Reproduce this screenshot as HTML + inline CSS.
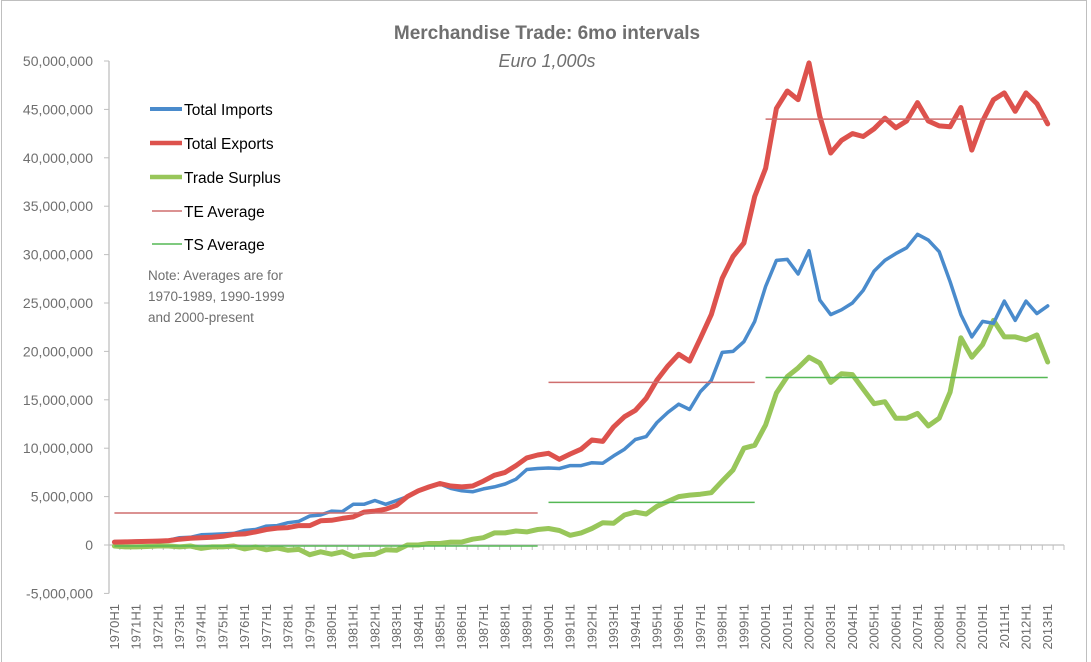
<!DOCTYPE html>
<html><head><meta charset="utf-8"><style>
body{margin:0;background:#fff;}
svg{display:block;font-family:"Liberation Sans",sans-serif;}
</style></head><body>
<svg id="chart" width="1091" height="662" viewBox="0 0 1091 662">
<rect x="1.5" y="0.5" width="1085" height="670" fill="#fff" stroke="#bfbfbf"/>
<text x="547" y="39" text-anchor="middle" font-size="19" font-weight="bold" fill="#6f6f6f">Merchandise Trade: 6mo intervals</text>
<text x="547" y="67" text-anchor="middle" font-size="18" font-style="italic" fill="#6f6f6f">Euro 1,000s</text>
<g id="yaxis"></g>
<g id="xaxis"></g>
<g id="avgs"></g>
<g id="series"></g>
<g>
<line x1="150" y1="109" x2="182" y2="109" stroke="#4a8bcc" stroke-width="4"/>
<text x="184" y="115" font-size="15.5" fill="#000">Total Imports</text>
<line x1="150" y1="143" x2="182" y2="143" stroke="#dd524d" stroke-width="4.5"/>
<text x="184" y="149" font-size="15.5" fill="#000">Total Exports</text>
<line x1="150" y1="177" x2="182" y2="177" stroke="#98c65a" stroke-width="4.5"/>
<text x="184" y="183" font-size="15.5" fill="#000">Trade Surplus</text>
<line x1="152" y1="211" x2="182" y2="211" stroke="#cf6e6e" stroke-width="1.5"/>
<text x="184" y="217" font-size="15.5" fill="#000">TE Average</text>
<line x1="152" y1="244" x2="182" y2="244" stroke="#55b855" stroke-width="1.5"/>
<text x="184" y="250" font-size="15.5" fill="#000">TS Average</text>
<text font-size="13.5" fill="#6f6f6f"><tspan x="148" y="280">Note: Averages are for</tspan><tspan x="148" y="301">1970-1989, 1990-1999</tspan><tspan x="148" y="322">and 2000-present</tspan></text>
</g>
</svg>
<script>
const yTicks=[-5000000,0,5000000,10000000,15000000,20000000,25000000,30000000,35000000,40000000,45000000,50000000];
const startYear=1970, nCats=88;
const imports=[0.35,0.37,0.4,0.42,0.45,0.5,0.75,0.8,1.05,1.1,1.15,1.2,1.5,1.6,1.95,2.0,2.3,2.45,3.0,3.1,3.5,3.45,4.2,4.2,4.6,4.2,4.6,5.0,5.6,6.0,6.3,5.85,5.6,5.5,5.8,6.0,6.3,6.8,7.8,7.9,7.95,7.9,8.2,8.2,8.5,8.45,9.2,9.9,10.9,11.2,12.65,13.7,14.55,14.0,15.85,17.0,19.9,20.0,21.0,23.1,26.7,29.4,29.5,28.0,30.4,25.3,23.8,24.3,25.0,26.3,28.3,29.4,30.1,30.7,32.1,31.5,30.3,27.2,23.8,21.5,23.1,22.9,25.2,23.2,25.2,23.9,24.7];
const exports=[0.3,0.32,0.35,0.37,0.4,0.45,0.6,0.7,0.75,0.8,0.9,1.1,1.15,1.35,1.6,1.75,1.8,2.0,2.0,2.5,2.55,2.75,2.9,3.4,3.5,3.7,4.1,5.0,5.6,6.0,6.35,6.1,6.0,6.1,6.6,7.2,7.5,8.2,9.0,9.3,9.47,8.85,9.4,9.9,10.85,10.7,12.2,13.25,13.9,15.15,17.05,18.5,19.7,19.0,21.35,23.8,27.55,29.8,31.2,36.0,38.9,45.1,46.9,46.0,49.8,44.3,40.5,41.8,42.5,42.2,43.0,44.1,43.1,43.8,45.7,43.8,43.3,43.2,45.2,40.8,43.8,46.0,46.7,44.8,46.7,45.6,43.5];
const surplus=[-0.1,-0.2,-0.2,-0.15,-0.1,-0.1,-0.2,-0.1,-0.35,-0.2,-0.2,-0.1,-0.4,-0.2,-0.5,-0.3,-0.55,-0.45,-1.0,-0.7,-0.95,-0.7,-1.2,-1.0,-0.95,-0.5,-0.55,0.0,0.0,0.15,0.15,0.3,0.3,0.6,0.75,1.25,1.25,1.45,1.35,1.6,1.7,1.5,1.0,1.25,1.7,2.3,2.25,3.1,3.4,3.2,4.0,4.5,5.0,5.15,5.25,5.4,6.6,7.75,10.0,10.3,12.4,15.7,17.4,18.3,19.4,18.8,16.8,17.7,17.6,16.1,14.6,14.8,13.1,13.1,13.6,12.3,13.1,15.8,21.4,19.4,20.7,23.2,21.5,21.5,21.2,21.7,18.9];
const teAvg=[3.3,16.8,44.0];
const tsAvg=[-0.1,4.4,17.3];
const periodStart=[0,40,60];
const periodEnd=[39,59,86];

const NS="http://www.w3.org/2000/svg";
const X0=109,X1=1064,Y0=545,PXM=9.68;
const step=(X1-X0)/nCats;
function xs(i){return X0+(i+0.5)*step;}
function ys(m){return Y0-m*PXM;}
function mk(tag,attrs,parent){const e=document.createElementNS(NS,tag);for(const k in attrs)e.setAttribute(k,attrs[k]);parent.appendChild(e);return e;}
const yg=document.getElementById('yaxis'),xg=document.getElementById('xaxis'),ag=document.getElementById('avgs'),sg=document.getElementById('series');
let ax=mk('line',{x1:X0,y1:ys(-5),x2:X0,y2:ys(50),stroke:'#bfbfbf','stroke-width':1.3},yg);


yTicks.forEach(v=>{const m=v/1e6;const y=ys(m);
 const t=mk('line',{x1:X0-5,y1:y,x2:X0,y2:y,stroke:'#bfbfbf'},yg);
 
 
 const l=mk('text',{x:93,y:y+5,'text-anchor':'end','font-size':14,fill:'#6f6f6f'},yg);
 l.textContent=v.toLocaleString('en-US');
 
 
});
let xl=mk('line',{x1:X0,y1:Y0,x2:X1,y2:Y0,stroke:'#bfbfbf','stroke-width':1.3},xg);


for(let i=0;i<=nCats;i++){const x=X0+i*step;
 const t=mk('line',{x1:x,y1:Y0,x2:x,y2:Y0+5,stroke:'#bfbfbf'},xg);
 
 
}
for(let i=0;i<nCats;i+=2){const x=xs(i);
 const l=mk('text',{x:0,y:0,'text-anchor':'end','font-size':13,fill:'#6a6a6a',transform:`translate(${x+4.5},604) rotate(-90)`},xg);
 l.textContent=(startYear+i/2)+'H1';
 
 
}
for(let p=0;p<3;p++){
 const a=mk('line',{x1:xs(periodStart[p]),y1:ys(teAvg[p]),x2:xs(periodEnd[p]),y2:ys(teAvg[p]),stroke:'#cf6e6e','stroke-width':1.5},ag);
 
 
 const b=mk('line',{x1:xs(periodStart[p]),y1:ys(tsAvg[p]),x2:xs(periodEnd[p]),y2:ys(tsAvg[p]),stroke:'#55b855','stroke-width':1.5},ag);
 
 
}
function series(arr,color,w,name){
 const d=arr.map((v,i)=>(i?'L':'M')+xs(i).toFixed(1)+','+ys(v).toFixed(1)).join('');
 const p=mk('path',{d:d,fill:'none',stroke:color,'stroke-width':w,'stroke-linejoin':'round','stroke-linecap':'round'},sg);
 
 
}
series(surplus,'#98c65a',5,'trade-surplus-line');
series(imports,'#4a8bcc',3.5,'total-imports-line');
series(exports,'#dd524d',5,'total-exports-line');
ag.parentNode.appendChild(ag);
</script>
</body></html>
